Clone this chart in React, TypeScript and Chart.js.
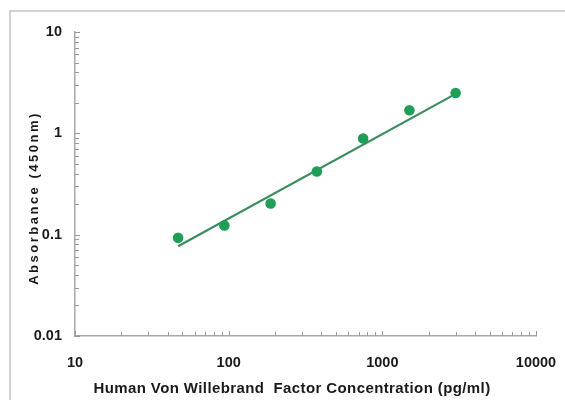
import React, { useEffect, useRef } from "react";
import { Chart, registerables } from "chart.js";

Chart.register(...registerables);

const concentrations = [46.875, 93.75, 187.5, 375, 750, 1500, 3000];
const absorbances = [0.093, 0.123, 0.203, 0.42, 0.89, 1.69, 2.5];
const fitX = [46.875, 3000];
const fitY = [0.077, 2.45];
const xTickValues = [10, 100, 1000, 10000];
const yTickValues = [0.01, 0.1, 1, 10];
const xTitle = "Human Von Willebrand  Factor Concentration (pg/ml)";
const yTitle = "Absorbance (450nm)";

const FONT = "'Liberation Sans', Arial, sans-serif";

const decorPlugin = {
  id: "decor",
  beforeDraw(chart: any) {
    const ctx = chart.ctx;
    ctx.save();
    ctx.fillStyle = "#ffffff";
    ctx.fillRect(0, 0, chart.width, chart.height);
    ctx.strokeStyle = "#d2d2d2";
    ctx.lineWidth = 2;
    ctx.strokeRect(10, 11, 800, 600);
    ctx.restore();
  },
  afterDraw(chart: any) {
    const ctx = chart.ctx;
    const xs = chart.scales.x;
    const ys = chart.scales.y;
    ctx.save();
    ctx.strokeStyle = "#9a9a9a";
    ctx.lineWidth = 1;
    for (let d = 10; d < 10000; d *= 10) {
      for (let m = 1; m <= 10; m++) {
        const v = d * m;
        if (v > 10000) continue;
        const px = Math.round(xs.getPixelForValue(v)) + 0.5;
        const len = m === 1 || m === 10 ? 5 : 4;
        ctx.beginPath();
        ctx.moveTo(px, xs.top);
        ctx.lineTo(px, xs.top - len);
        ctx.stroke();
      }
    }
    for (let d = 0.01; d < 10; d *= 10) {
      for (let m = 1; m <= 10; m++) {
        const v = d * m;
        const py = Math.round(ys.getPixelForValue(v)) + 0.5;
        const len = m === 1 || m === 10 ? 5 : 4;
        ctx.beginPath();
        ctx.moveTo(ys.right, py);
        ctx.lineTo(ys.right + len, py);
        ctx.stroke();
      }
    }
    ctx.fillStyle = "#1a1a1a";
    ctx.font = `bold 15px ${FONT}`;
    (ctx as any).letterSpacing = "0.4px";
    ctx.textAlign = "center";
    ctx.textBaseline = "alphabetic";
    ctx.fillText(xTitle, 292, 393);
    ctx.translate(34, 198);
    ctx.rotate(-Math.PI / 2);
    ctx.font = `bold 13px ${FONT}`;
    (ctx as any).letterSpacing = "2.5px";
    ctx.textBaseline = "middle";
    ctx.fillText(yTitle, 0, 0);
    ctx.restore();
  },
};

export default function App() {
  const ref = useRef<HTMLCanvasElement>(null);
  useEffect(() => {
    if (!ref.current) return;
    const chart = new Chart(ref.current, {
      type: "scatter",
      data: {
        datasets: [
          {
            label: "fit",
            data: fitX.map((x, i) => ({ x, y: fitY[i] })),
            showLine: true,
            borderColor: "#3b8c5e",
            borderWidth: 2.2,
            pointRadius: 0,
            order: 2,
          },
          {
            label: "points",
            data: concentrations.map((x, i) => ({ x, y: absorbances[i] })),
            backgroundColor: "#1e9e56",
            borderColor: "#1e9e56",
            pointRadius: 5.3,
            borderWidth: 0,
            order: 1,
          },
        ],
      },
      options: {
        animation: false,
        responsive: false,
        devicePixelRatio: 1,
        layout: { padding: { top: 32, right: 29, left: 0, bottom: 0 } },
        plugins: { legend: { display: false }, tooltip: { enabled: false } },
        scales: {
          x: {
            type: "logarithmic",
            position: "bottom",
            min: 10,
            max: 10000,
            grid: { display: false, drawTicks: false },
            border: { display: true, color: "#a8a8a8", width: 1.5 },
            afterBuildTicks: (s: any) => {
              s.ticks = xTickValues.map((v) => ({ value: v }));
            },
            afterFit: (s: any) => {
              s.height = 64;
              s.paddingLeft = 0;
              s.paddingRight = 0;
            },
            ticks: {
              autoSkip: false,
              maxRotation: 0,
              padding: 18,
              color: "#1a1a1a",
              font: { family: FONT, weight: "bold", size: 14.5 },
              callback: (v: any) => String(v),
            },
          },
          y: {
            type: "logarithmic",
            position: "left",
            min: 0.01,
            max: 10,
            grid: { display: false, drawTicks: false },
            border: { display: true, color: "#a8a8a8", width: 1.5 },
            afterBuildTicks: (s: any) => {
              s.ticks = yTickValues.map((v) => ({ value: v }));
            },
            afterFit: (s: any) => {
              s.width = 75;
              s.paddingTop = 0;
              s.paddingBottom = 0;
            },
            ticks: {
              autoSkip: false,
              padding: 13,
              color: "#1a1a1a",
              font: { family: FONT, weight: "bold", size: 14.5 },
              callback: (v: any) => String(v),
            },
          },
        },
      },
      plugins: [decorPlugin],
    });
    return () => chart.destroy();
  }, []);
  return (
    <div style={{ position: "absolute", left: 0, top: 0, width: 565, height: 400 }}>
      <canvas ref={ref} width={565} height={400} />
    </div>
  );
}
